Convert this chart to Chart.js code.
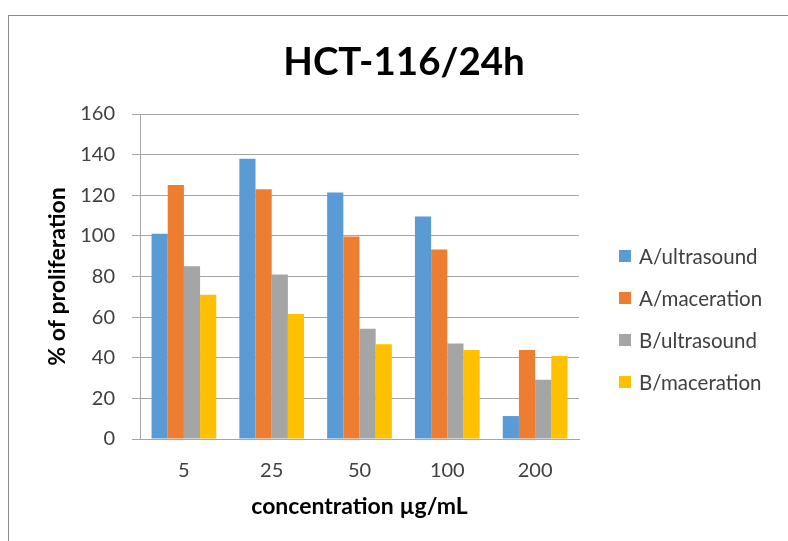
<!DOCTYPE html>
<html>
<head>
<meta charset="utf-8">
<script src="https://cdn.jsdelivr.net/npm/chart.js@4.4.1/dist/chart.umd.min.js"></script>
<style>
  html, body { margin: 0; padding: 0; background: #fff; }
  #wrap { position: relative; width: 788px; height: 541px; overflow: hidden; }
  #frame { position: absolute; left: 8px; top: 15px; right: -2px; bottom: -2px; border-top: 1px solid #8c8c8c; border-left: 1px solid #8c8c8c; }
  canvas { position: absolute; left: 0; top: 0; }
  #legend { position: absolute; left: 619px; top: 234.7px; font-family: Lato, "Open Sans", sans-serif; font-size: 20.5px; color: #404040; }
  .item { display: flex; align-items: center; height: 42.2px; white-space: nowrap; }
  .sw { width: 12px; height: 12px; margin-right: 8px; flex: none; }
</style>
</head>
<body>
<div id="wrap">
  <div id="frame"></div>
  <canvas id="c" width="788" height="541"></canvas>
  <div id="legend"></div>
</div>
<script>
const categories = ['5', '25', '50', '100', '200'];
const seriesNames = ['A/ultrasound', 'A/maceration', 'B/ultrasound', 'B/maceration'];
const aUltrasound = [101, 138, 121.3, 109.5, 11.3];
const aMaceration = [125, 123, 99.7, 93.3, 43.8];
const bUltrasound = [85, 81, 54.3, 47, 29.2];
const bMaceration = [71, 61.5, 46.6, 43.8, 40.9];
const seriesColors = ['#5B9BD5', '#ED7D31', '#A5A5A5', '#FFC000'];
const yMin = 0, yMax = 160, yStep = 20;
const chartTitle = 'HCT-116/24h';
const xTitle = 'concentration µg/mL';
const yTitle = '% of proliferation';

const seriesValues = [aUltrasound, aMaceration, bUltrasound, bMaceration];
const datasets = seriesNames.map((name, i) => ({
  label: name,
  data: seriesValues[i],
  backgroundColor: seriesColors[i],
  borderWidth: 0,
  categoryPercentage: 0.737,
  barPercentage: 1.0
}));

const FONT = 'Lato, "Open Sans", sans-serif';
const tickColor = '#404040';
const gridColor = '#a6a6a6';

const chart = new Chart(document.getElementById('c'), {
  type: 'bar',
  data: { labels: categories, datasets },
  options: {
    responsive: false,
    devicePixelRatio: 1,
    animation: false,
    layout: { padding: { left: 20, right: 0, top: 39, bottom: 21 } },
    plugins: {
      legend: { display: false },
      tooltip: { enabled: false },
      title: {
        display: true,
        text: chartTitle,
        color: '#000',
        font: { family: FONT, size: 38.5, weight: 'bold', lineHeight: 1.2 },
        padding: { top: 0, bottom: 28.8 }
      }
    },
    scales: {
      x: {
        grid: { display: false, drawTicks: false },
        border: { display: true, color: gridColor, width: 1 },
        ticks: { color: tickColor, font: { family: FONT, size: 20 }, padding: 19.7, maxRotation: 0 },
        title: { display: true, text: xTitle, color: '#000', font: { family: FONT, size: 23, weight: 'bold', lineHeight: 1.2 }, padding: { top: 10, bottom: 0 } },
        afterFit: (s) => { s.height = 81; }
      },
      y: {
        min: yMin, max: yMax,
        ticks: { stepSize: yStep, color: tickColor, font: { family: FONT, size: 20 }, padding: 17 },
        grid: { color: gridColor, lineWidth: 1, drawTicks: true, tickLength: 8 },
        border: { display: true, color: gridColor, width: 1 },
        title: { display: true, text: yTitle, color: '#000', font: { family: FONT, size: 23, weight: 'bold', lineHeight: 1.2 }, padding: { top: 24, bottom: 0 } },
        afterFit: (s) => { s.width = 120; }
      },
      spacer: {
        type: 'linear', position: 'right', display: true,
        grid: { display: false, drawTicks: false },
        border: { display: false },
        ticks: { display: false },
        title: { display: false },
        afterFit: (s) => { s.width = 209; }
      }
    }
  }
});

const legendEl = document.getElementById('legend');
chart.data.datasets.forEach((ds) => {
  const row = document.createElement('div');
  row.className = 'item';
  const sw = document.createElement('span');
  sw.className = 'sw';
  sw.style.background = ds.backgroundColor;
  const tx = document.createElement('span');
  tx.textContent = ds.label;
  row.appendChild(sw);
  row.appendChild(tx);
  legendEl.appendChild(row);
});
</script>
</body>
</html>
